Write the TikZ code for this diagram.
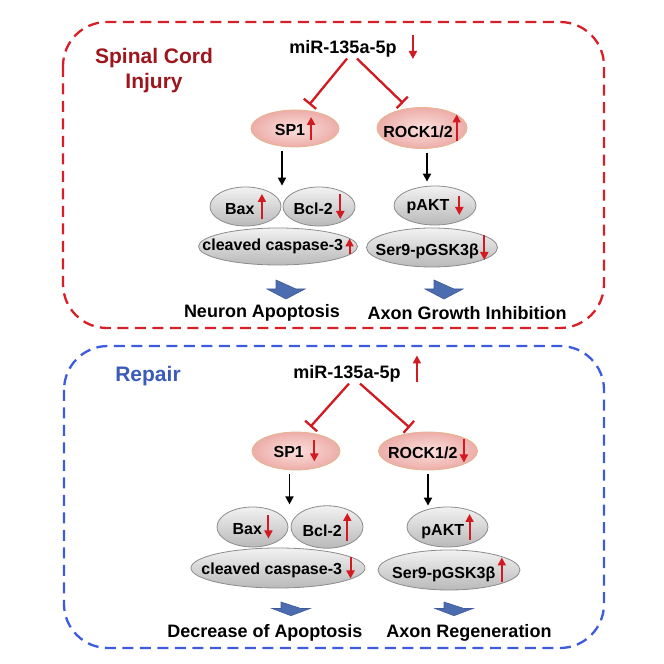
\documentclass[tikz,border=0pt]{standalone}
\usepackage{fontspec}
\setmainfont{Liberation Sans}
\usetikzlibrary{arrows.meta, positioning, calc, shapes.geometric}

\definecolor{panelRed}{HTML}{D71F27}
\definecolor{panelBlue}{HTML}{3D5BDD}
\definecolor{titleRed}{HTML}{9E161D}
\definecolor{titleBlue}{HTML}{3A5BB8}
\definecolor{arrRed}{HTML}{D11A21}
\definecolor{pinkIn}{HTML}{FBE0DC}
\definecolor{pinkOut}{HTML}{EDADA9}
\definecolor{tanLine}{HTML}{E4B58E}
\definecolor{grayTop}{HTML}{F2F2F2}
\definecolor{grayBot}{HTML}{B9B9B9}
\definecolor{grayLine}{HTML}{8C8C8C}
\definecolor{blockBlue}{HTML}{4C6CB0}
\definecolor{blockEdge}{HTML}{3E5A98}

\tikzset{
  trend/.style={draw=arrRed, line width=2pt, -{Triangle[width=8pt,length=8pt]}},
  injpanel/.style={draw=panelRed, line width=2.3pt, dash pattern=on 11pt off 6.5pt, rounded corners=44pt},
  reppanel/.style={draw=panelBlue, line width=2.3pt, dash pattern=on 11pt off 6.5pt, rounded corners=44pt},
  heading/.style={font=\fontsize{21}{25}\selectfont\bfseries, align=center},
  mirna/.style={font=\fontsize{18}{21}\selectfont\bfseries, inner sep=1pt},
  result/.style={font=\fontsize{18}{21}\selectfont\bfseries, inner sep=1pt},
  target/.style={ellipse, draw=tanLine, line width=0.8pt, inner color=pinkIn, outer color=pinkOut,
    inner sep=0pt, font=\fontsize{16}{19}\selectfont\bfseries},
  effector/.style={ellipse, draw=grayLine, line width=0.8pt, top color=grayTop, bottom color=grayBot,
    inner sep=0pt, font=\fontsize{16}{19}\selectfont\bfseries},
  inh/.style={draw=arrRed, line width=2.3pt, -{Bar[width=16pt, line width=2.3pt]}, shorten >=7pt},
  act/.style={draw=black, line width=1.8pt, -{Triangle[width=8pt,length=8pt]}, shorten <=4pt, shorten >=1pt},
  outcome/.pic={\filldraw[fill=blockBlue, draw=blockEdge, line width=0.6pt]
    (-10,9) -- (-10,0) -- (-19,0) -- (0,-10) -- (19,0) -- (10,0) -- cycle;}
}

\newcommand{\upar}[1][23]{\tikz[baseline={(0,4pt)}]\draw[trend] (0,0) -- (0,#1pt);}
\newcommand{\dnar}[1][23]{\tikz[baseline={(0,4pt)}]\draw[trend] (0,#1pt) -- (0,0);}
\newcommand{\gtxt}[1]{\makebox[0pt]{#1}}

\begin{document}
\begin{tikzpicture}[x=1pt, y=1pt]
    \useasboundingbox (0,0) rectangle (664,664);

    % Panels
    \draw[injpanel] (63,642) rectangle (604,336);
    \draw[reppanel] (64,318) rectangle (604,16);

    % Spinal cord injury
    \node[heading, text=titleRed] (scia) at (154,593.5) {Spinal Cord\\Injury};
    \node[mirna] (mira) at (343,615) {miR-135a-5p};
    \node[right=11pt of mira, yshift=2pt, inner sep=0pt] (trenda) {\dnar[24]};

    \node[target, minimum width=88pt, minimum height=37pt] (sp1a) at (295,535.5) {\gtxt{SP1\hspace{2pt}\upar}};
    \node[target, minimum width=90pt, minimum height=37pt] (rocka) at (422,536) {\gtxt{ROCK1/2\hspace{0pt}\upar[27]}};

    \node[effector, minimum width=71pt, minimum height=39pt] (baxa) at (245.5,457.5) {\gtxt{Bax\hspace{3.5pt}\upar[25]}};
    \node[effector, minimum width=72pt, minimum height=39pt] (bcla) at (319,457.5) {\gtxt{Bcl-2\hspace{3.5pt}\dnar[25]}};
    \node[effector, minimum width=159pt, minimum height=37pt] (casa) at (278,417.5) {\gtxt{cleaved caspase-3\hspace{2.5pt}\upar[16]}};
    \node[effector, minimum width=82pt, minimum height=39pt] (pakta) at (435,458.5) {\gtxt{pAKT\hspace{6pt}\dnar[19]}};
    \node[effector, minimum width=131pt, minimum height=39pt] (gska) at (432,416.5) {\gtxt{Ser9-pGSK3β\hspace{1.5pt}\dnar[25]}};

    \draw[inh] ([xshift=4pt]mira.south) -- (sp1a.62);
    \draw[inh] ([xshift=14pt]mira.south) -- (rocka.125);

    \coordinate (splita) at ($(baxa.east)!.5!(bcla.west)$);
    \draw[act] (sp1a.south -| splita) -- (splita |- bcla.north);
    \draw[act, shorten >=4pt] ([xshift=5pt]rocka.south) -- ([xshift=5pt]rocka.south |- pakta.north);

    \pic at (286,375) {outcome};
    \pic at (444,375) {outcome};
    \node[result] (apoa) at (262,351) {Neuron Apoptosis};
    \node[result] (axna) at (467,351) {Axon Growth Inhibition};

    % Repair
    \node[heading, text=titleBlue] (repb) at (148,288) {Repair};
    \node[mirna] (mirb) at (347,290) {miR-135a-5p};
    \node[right=11pt of mirb, yshift=5pt, inner sep=0pt] (trendb) {\upar[27]};

    \node[target, minimum width=88pt, minimum height=38pt] (sp1b) at (296,213) {\gtxt{SP1\hspace{6.5pt}\dnar[21]}};
    \node[target, minimum width=99pt, minimum height=38pt] (rockb) at (428,213) {\gtxt{ROCK1/2\hspace{2.5pt}\dnar[23]}};

    \node[effector, minimum width=71pt, minimum height=40pt] (baxb) at (252.5,137) {\gtxt{Bax\hspace{2.5pt}\dnar[23]}};
    \node[effector, minimum width=72pt, minimum height=40pt] (bclb) at (327,137) {\gtxt{Bcl-2\hspace{1.5pt}\upar[28]}};
    \node[effector, minimum width=174pt, minimum height=40pt] (casb) at (278,96) {\gtxt{cleaved caspase-3\hspace{4.5pt}\dnar[21]}};
    \node[effector, minimum width=81pt, minimum height=40pt] (paktb) at (447.5,137) {\gtxt{pAKT\hspace{1.5pt}\upar[26]}};
    \node[effector, minimum width=142pt, minimum height=40pt] (gskb) at (449,94) {\gtxt{Ser9-pGSK3β\hspace{2.5pt}\upar[25]}};

    \draw[inh] ([xshift=2pt]mirb.south) -- (sp1b.63);
    \draw[inh] ([xshift=13pt]mirb.south) -- (rockb.125);

    \coordinate (splitb) at ($(baxb.east)!.5!(bclb.west)$);
    \draw[act] (sp1b.south -| splitb) -- (splitb |- bclb.north);
    \draw[act] (rockb.south) -- (rockb.south |- paktb.north);

    \pic[yscale=.72] at (291,55.5) {outcome};
    \pic[yscale=.72] at (454,55.5) {outcome};
    \node[result] (apob) at (265,31) {Decrease of Apoptosis};
    \node[result] (axnb) at (469,31) {Axon Regeneration};

\end{tikzpicture}
\end{document}
